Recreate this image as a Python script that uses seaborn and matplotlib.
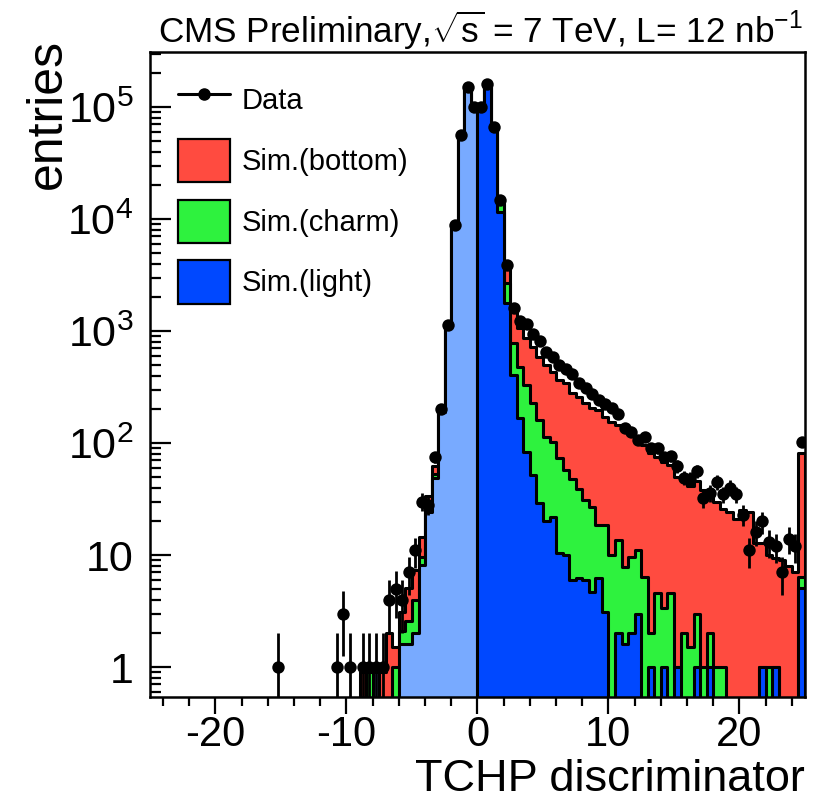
import numpy as np
import matplotlib
matplotlib.use("Agg")
import matplotlib.pyplot as plt
import seaborn as sns
from matplotlib.patches import Patch
from matplotlib.lines import Line2D
from matplotlib.ticker import FixedLocator, FixedFormatter, LogLocator, MultipleLocator, NullFormatter

sns.set_theme(style="white")
plt.rcParams["font.family"] = ["Liberation Sans", "DejaVu Sans"]
plt.rcParams["mathtext.fontset"] = "custom"
plt.rcParams["mathtext.rm"] = "Liberation Sans"
plt.rcParams["mathtext.it"] = "Liberation Sans:italic"
plt.rcParams["axes.unicode_minus"] = False
plt.rcParams["text.color"] = "black"

# binning of the TCHP discriminator
bin_width = 0.5
x_low, x_high = -25.0, 25.0

# simulated flavour contributions per bin, first bin starts at -9.0 (last bin holds overflow)
mc_start = -9.0
light = [0, 0, 0.9, 0, 0, 0, 1.6, 1.6, 2.0, 8.1,
         24, 49, 190, 1100, 8700, 55000, 150000, 98000, 98000, 158000,
         65000, 11500, 1770, 405, 166, 84, 52, 29, 20, 22,
         10.4, 10, 6, 6.2, 6, 4.7, 6.3, 3.1, 0, 2.0,
         1.6, 2.0, 3.0, 0, 1.0, 0, 1.0, 0, 1.0, 0,
         0, 1.0, 0, 1.0, 0, 0, 0, 0, 0, 0,
         0, 1.0, 0, 1.0, 0, 0, 0, 5.1]
charm = [0, 0.9, 0, 0, 0, 1.0, 0.5, 1.0, 2.0, 1.5,
         2.3, 4, 8, 30, 100, 600, 1500, 1000, 1000, 1600,
         700, 2000, 900, 371, 314, 246, 174, 131, 94, 81,
         62.6, 47, 42, 32.8, 25, 22.3, 12.2, 15.4, 10, 11.6,
         6.3, 7.7, 8.1, 6.4, 1.0, 4.6, 2.4, 4.6, 0, 2.0,
         1.5, 2.0, 1.0, 1.0, 1.0, 1.0, 0, 0, 0, 0,
         0, 0, 1.0, 0, 0, 0, 0, 1.3]
bottom = [0.9, 0, 0, 0.9, 2.0, 0.5, 1.0, 2.5, 3.3, 5.0,
          7.7, 10, 12, 30, 100, 400, 1500, 1000, 1000, 1600,
          700, 1000, 930, 711, 577, 531, 498, 430, 383, 330,
          292, 284, 230, 220, 195, 177, 178, 153, 145, 131,
          123, 112, 97, 89, 80, 71, 65, 59, 49, 46,
          40, 43, 37, 34, 29, 25, 24, 21, 25, 24,
          12.7, 11.7, 9, 8.5, 9, 8, 7, 75]

# observed events: bin centre and count
data_center = [-15.25, -10.75, -10.25, -9.75, -8.75, -8.25, -7.75, -7.25, -6.75, -6.25,
               -5.75, -5.25, -4.75, -4.25, -3.75, -3.25, -2.75, -2.25, -1.75, -1.25,
               -0.75, -0.25, 0.25, 0.75, 1.25, 1.75, 2.25, 2.75, 3.25, 3.75,
               4.25, 4.75, 5.25, 5.75, 6.25, 6.75, 7.25, 7.75, 8.25, 8.75,
               9.25, 9.75, 10.25, 10.75, 11.25, 11.75, 12.25, 12.75, 13.25, 13.75,
               14.25, 14.75, 15.25, 15.75, 16.25, 16.75, 17.25, 17.75, 18.25, 18.75,
               19.25, 19.75, 20.25, 20.75, 21.25, 21.75, 22.25, 22.75, 23.25, 23.75,
               24.25, 24.75]
data_count = [1, 1, 3, 1, 1, 1, 1, 1, 4, 5,
              4, 7, 11, 30, 28, 75, 200, 1130, 8900, 56000,
              150000, 100000, 100000, 160000, 66000, 14700, 3880, 1593, 1236, 1155,
              940, 819, 645, 582, 497, 455, 413, 341, 308, 274,
              242, 223, 204, 182, 135, 126, 106, 114, 90, 90,
              75, 76, 62, 49, 48, 56, 32, 36, 45, 35,
              40, 35, 23, 11, 16, 20, 13, 12, 7, 14,
              12, 103]

RED = "#ff4b40"
GREEN = "#2ef23e"
BLUE = "#0048ff"
LIGHTBLUE = "#78aaff"

edges = list(np.arange(x_low, x_high + bin_width / 2, bin_width))
light_v = np.array(light, float)
charm_v = np.array(charm, float)
bottom_v = np.array(bottom, float)
mc_centers = mc_start + bin_width / 2 + bin_width * np.arange(len(light_v))
stack_lc = light_v + charm_v
stack_all = stack_lc + bottom_v
neg = mc_centers < 0

fig = plt.figure(figsize=(8.21, 8.01), dpi=100)
ax = fig.add_axes([0.1827, 0.1298, 0.7978, 0.8053])
ax.set_yscale("log")

# stacked simulation: each cumulative level drawn on top of the previous one
hist_kw = dict(bins=edges, element="step", fill=True, alpha=1.0,
               edgecolor="black", linewidth=2.2, ax=ax)
sns.histplot(x=mc_centers, weights=stack_all, facecolor=RED, **hist_kw)
sns.histplot(x=mc_centers, weights=stack_lc, facecolor=GREEN, **hist_kw)
sns.histplot(x=mc_centers[neg], weights=light_v[neg], facecolor=LIGHTBLUE, **hist_kw)
sns.histplot(x=mc_centers[~neg], weights=light_v[~neg], facecolor=BLUE, **hist_kw)

# data points with Poisson errors
dc = np.array(data_count, float)
ax.errorbar(data_center, dc, yerr=np.sqrt(dc), fmt="none", ecolor="black",
            elinewidth=2.0, capsize=0, zorder=5)
sns.scatterplot(x=data_center, y=dc, color="black", s=80, edgecolor="black",
                linewidth=0, zorder=6, ax=ax)

ax.set_xlim(x_low, x_high)
ax.set_ylim(0.54, 3.1e5)
ax.set_xlabel("")
ax.set_ylabel("")

ax.xaxis.set_major_locator(FixedLocator([-20, -10, 0, 10, 20]))
ax.xaxis.set_minor_locator(MultipleLocator(2))
ax.yaxis.set_major_locator(FixedLocator([1, 10, 100, 1e3, 1e4, 1e5]))
ax.yaxis.set_major_formatter(FixedFormatter(
    ["1", "10", r"$\mathregular{10^{2}}$", r"$\mathregular{10^{3}}$",
     r"$\mathregular{10^{4}}$", r"$\mathregular{10^{5}}$"]))
ax.yaxis.set_minor_locator(LogLocator(base=10, subs=np.arange(2, 10), numticks=20))
ax.yaxis.set_minor_formatter(NullFormatter())

ax.tick_params(axis="x", which="both", direction="out", bottom=True, top=False,
               labelsize=30, width=1.6, pad=0.5, colors="black")
ax.tick_params(axis="x", which="major", length=12.5)
ax.tick_params(axis="x", which="minor", length=6.5)
ax.tick_params(axis="y", which="both", direction="in", left=True, right=False,
               labelsize=31, width=1.6, pad=12, colors="black")
ax.tick_params(axis="y", which="major", length=15)
ax.tick_params(axis="y", which="minor", length=8)
for side in ax.spines.values():
    side.set_color("black")
    side.set_linewidth(1.8)
ax.set_facecolor("white")

handles = [Line2D([0], [0], color="black", lw=2.2, marker="o", ms=8),
           Patch(facecolor=RED, edgecolor="black", linewidth=1.6),
           Patch(facecolor=GREEN, edgecolor="black", linewidth=1.6),
           Patch(facecolor=BLUE, edgecolor="black", linewidth=1.6)]
labels = ["Data", "Sim.(bottom)", "Sim.(charm)", "Sim.(light)"]
ax.legend(handles, labels, loc="upper left", bbox_to_anchor=(0.0246, 0.977),
          frameon=False, fontsize=21, handlelength=1.8, handleheight=1.9,
          labelspacing=0.6, handletextpad=0.4, borderaxespad=0)

fig.text(158 / 821, 1 - 30 / 801,
         r"CMS Preliminary,$\sqrt{\mathregular{s}}$ = 7 TeV, L= 12 nb$^{\mathregular{-1}}$",
         fontsize=25.3, ha="left", va="center")
fig.text(805 / 821, 1 - 791 / 801, "TCHP discriminator", fontsize=32.5,
         ha="right", va="baseline")
fig.text(48 / 821, 1 - 39 / 801, "entries", fontsize=36, rotation=90,
         ha="center", va="top")

fig.savefig("out.png", dpi=100, facecolor="white")
